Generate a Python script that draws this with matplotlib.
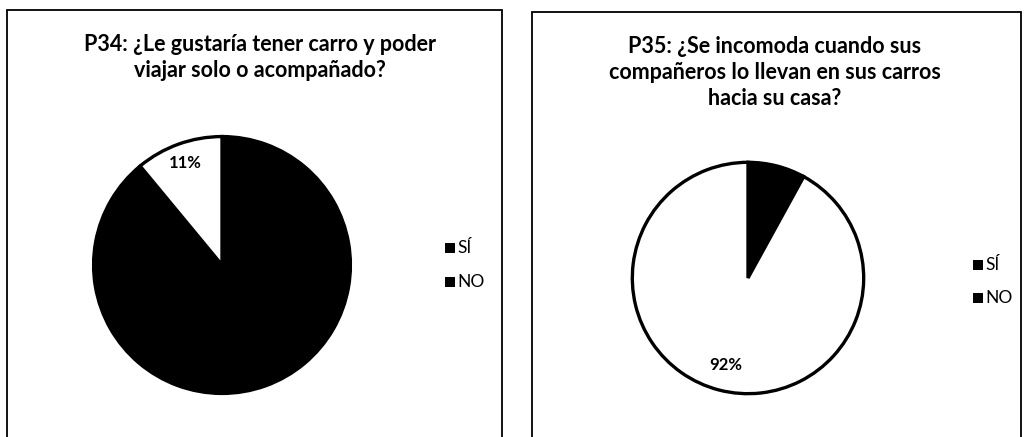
import numpy as np
import matplotlib.pyplot as plt
from matplotlib.patches import Rectangle

W, H = 1025, 437

labels = ['SÍ', 'NO']
p34_values = [89, 11]
p35_values = [8, 92]
colors = ['black', 'white']

p34_title = 'P34: ¿Le gustaría tener carro y poder\nviajar solo o acompañado?'
p35_title = 'P35: ¿Se incomoda cuando sus\ncompañeros lo llevan en sus carros\nhacia su casa?'

plt.rcParams['font.family'] = ['Lato', 'DejaVu Sans']

fig = plt.figure(figsize=(W / 100, H / 100), dpi=100)


def px(x, y):
    # pixel coords (top-left origin) -> figure fraction
    return x / W, 1 - y / H


def draw_pie(values, cx, cy, r, pctdist, title, title_x, title_y, leg_x, leg_y, leg_gap):
    ax = fig.add_axes([(cx - r) / W, 1 - (cy + r) / H, 2 * r / W, 2 * r / H])
    wedges, texts = ax.pie(values, colors=colors, startangle=90, counterclock=False,
                           wedgeprops=dict(edgecolor='black', linewidth=2.4))
    ax.set_xlim(-1.02, 1.02)
    ax.set_ylim(-1.02, 1.02)
    ax.set_aspect('equal')
    # only the white slice (NO) carries a label in the reference
    w = wedges[1]
    ang = np.deg2rad((w.theta1 + w.theta2) / 2)
    ax.text(pctdist * np.cos(ang), pctdist * np.sin(ang), f'{values[1]}%',
            ha='center', va='center', fontsize=12, fontweight='bold')
    tx, ty = px(title_x, title_y)
    fig.text(tx, ty, title, ha='center', va='top', fontsize=15.5, fontweight='bold',
             linespacing=1.3)
    for i, lab in enumerate(labels):
        yy = leg_y + i * leg_gap
        sx, sy = px(leg_x, yy + 5)
        fig.patches.append(Rectangle((sx, sy), 10 / W, 10 / H, transform=fig.transFigure,
                                     facecolor='black', edgecolor='none'))
        lx, ly = px(leg_x + 12, yy)
        fig.text(lx, ly, lab, ha='left', va='center', fontsize=12.5)


draw_pie(p34_values, 222, 265, 131, 0.84, p34_title, 260, 34, 445, 248, 34)
draw_pie(p35_values, 748, 278, 118, 0.78, p35_title, 775, 36, 973, 265, 33)

# bordered chart boxes
for (x0, y0, x1) in [(7, 10, 502), (532, 12, 1021)]:
    fx0, fy0 = px(x0, y0)
    fx1, _ = px(x1, y0)
    fig.patches.append(Rectangle((fx0, -0.02), fx1 - fx0, fy0 + 0.02,
                                 transform=fig.transFigure, fill=False,
                                 edgecolor='black', linewidth=1.3))

fig.savefig('out.png', dpi=100)
